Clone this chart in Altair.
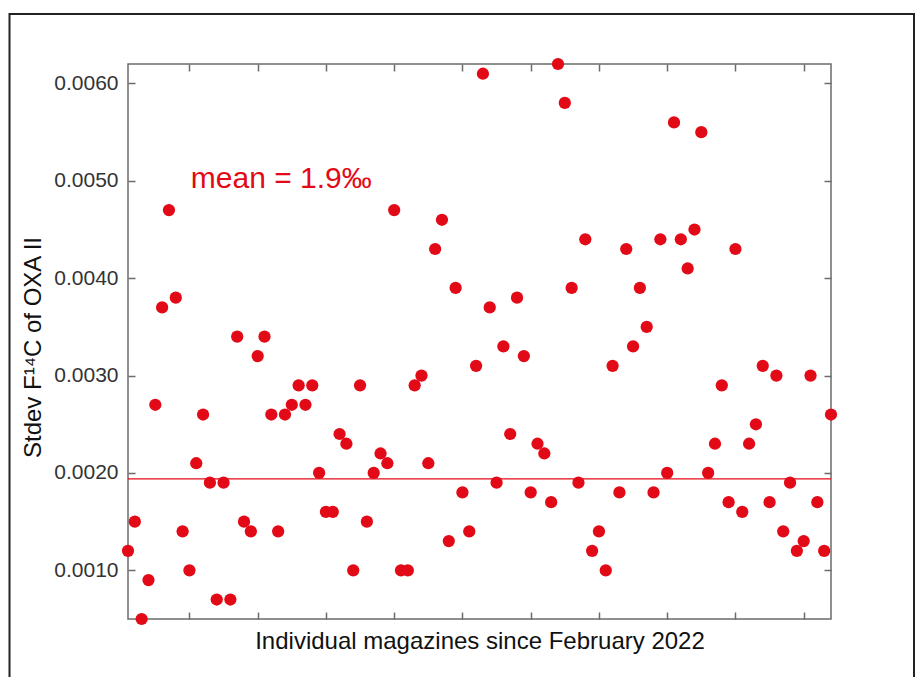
import altair as alt
import pandas as pd

# ---- data ----
magazine = list(range(1, 105))
stdev = [
    0.0012, 0.0015, 0.0005, 0.0009, 0.0027, 0.0037, 0.0047, 0.0038, 0.0014, 0.0010,
    0.0021, 0.0026, 0.0019, 0.0007, 0.0019, 0.0007, 0.0034, 0.0015, 0.0014, 0.0032,
    0.0034, 0.0026, 0.0014, 0.0026, 0.0027, 0.0029, 0.0027, 0.0029, 0.0020, 0.0016,
    0.0016, 0.0024, 0.0023, 0.0010, 0.0029, 0.0015, 0.0020, 0.0022, 0.0021, 0.0047,
    0.0010, 0.0010, 0.0029, 0.0030, 0.0021, 0.0043, 0.0046, 0.0013, 0.0039, 0.0018,
    0.0014, 0.0031, 0.0061, 0.0037, 0.0019, 0.0033, 0.0024, 0.0038, 0.0032, 0.0018,
    0.0023, 0.0022, 0.0017, 0.0062, 0.0058, 0.0039, 0.0019, 0.0044, 0.0012, 0.0014,
    0.0010, 0.0031, 0.0018, 0.0043, 0.0033, 0.0039, 0.0035, 0.0018, 0.0044, 0.0020,
    0.0056, 0.0044, 0.0041, 0.0045, 0.0055, 0.0020, 0.0023, 0.0029, 0.0017, 0.0043,
    0.0016, 0.0023, 0.0025, 0.0031, 0.0017, 0.0030, 0.0014, 0.0019, 0.0012, 0.0013,
    0.0030, 0.0017, 0.0012, 0.0026,
]
mean_value = [0.00194]
mean_label = ["mean = 1.9\u2030"]
label_pos_x = [10.2]
label_pos_y = [0.00493]
x_ticks = [10, 20, 30, 40, 50, 60, 70, 80, 90, 100]
y_ticks = [0.001, 0.002, 0.003, 0.004, 0.005, 0.006]

RED = "#e30a17"
AXIS = "#6b6b6b"
FONT = "Liberation Sans"

df = pd.DataFrame({"magazine": magazine, "stdev": stdev})
mean_df = pd.DataFrame({"mean": mean_value})
label_df = pd.DataFrame({"x": label_pos_x, "y": label_pos_y, "t": mean_label})

xscale = alt.Scale(domain=[1, 104], nice=False, zero=False)
yscale = alt.Scale(domain=[0.0005, 0.0062], nice=False, zero=False)

points = alt.Chart(df).mark_circle(size=150, color=RED, opacity=1).encode(
    x=alt.X("magazine:Q", scale=xscale, axis=alt.Axis(
        orient="bottom", values=x_ticks, labels=False, domain=False, grid=False,
        tickSize=7, offset=-7, tickColor=AXIS, tickWidth=1.5,
        title="Individual magazines since February 2022",
        titleFont=FONT, titleFontSize=24, titleFontWeight="normal",
        titleColor="#111111", titlePadding=10)),
    y=alt.Y("stdev:Q", scale=yscale, axis=alt.Axis(
        orient="left", values=y_ticks, format=".4f", domain=False, grid=False,
        tickSize=7, offset=-7, tickColor=AXIS, tickWidth=1.5,
        labelFont=FONT, labelFontSize=21, labelColor="#333333", labelPadding=10,
        title="Stdev F\u00b9\u2074C of OXA II",
        titleFont=FONT, titleFontSize=24, titleFontWeight="normal",
        titleColor="#111111", titlePadding=8, titleY=283)),
)

axes2 = alt.Chart(df).mark_circle(opacity=0).encode(
    x=alt.X("magazine:Q", scale=xscale, axis=alt.Axis(
        orient="top", values=x_ticks, labels=False, domain=False, grid=False,
        tickSize=7, offset=-7, tickColor=AXIS, tickWidth=1.5, title=None)),
    y=alt.Y("stdev:Q", scale=yscale, axis=alt.Axis(
        orient="right", values=y_ticks, labels=False, domain=False, grid=False,
        tickSize=7, offset=-7, tickColor=AXIS, tickWidth=1.5, title=None)),
)

rule = alt.Chart(mean_df).mark_rule(color=RED, strokeWidth=1.3).encode(
    y=alt.Y("mean:Q", scale=yscale, axis=None),
)

label = alt.Chart(label_df).mark_text(
    color=RED, font=FONT, fontSize=30, align="left", baseline="alphabetic"
).encode(
    x=alt.X("x:Q", scale=xscale, axis=None),
    y=alt.Y("y:Q", scale=yscale, axis=None),
    text="t:N",
)

frame = alt.Chart(pd.DataFrame({"k": [0]})).mark_rect(
    filled=False, stroke="#222222", strokeWidth=2
).encode(
    x=alt.value(-118.5), x2=alt.value(786), y=alt.value(-50), y2=alt.value(720)
)

chart = alt.layer(frame, rule, axes2, points, label).resolve_axis(
    x="independent", y="independent"
).properties(
    width=703, height=555,
    padding={"left": 120, "top": 56, "right": 84, "bottom": 58},
    autosize=alt.AutoSizeParams(type="none"),
    background="white",
).configure_view(stroke=AXIS, strokeWidth=1.5)

chart.save("out.html", embed_options={"renderer": "svg", "actions": False})
